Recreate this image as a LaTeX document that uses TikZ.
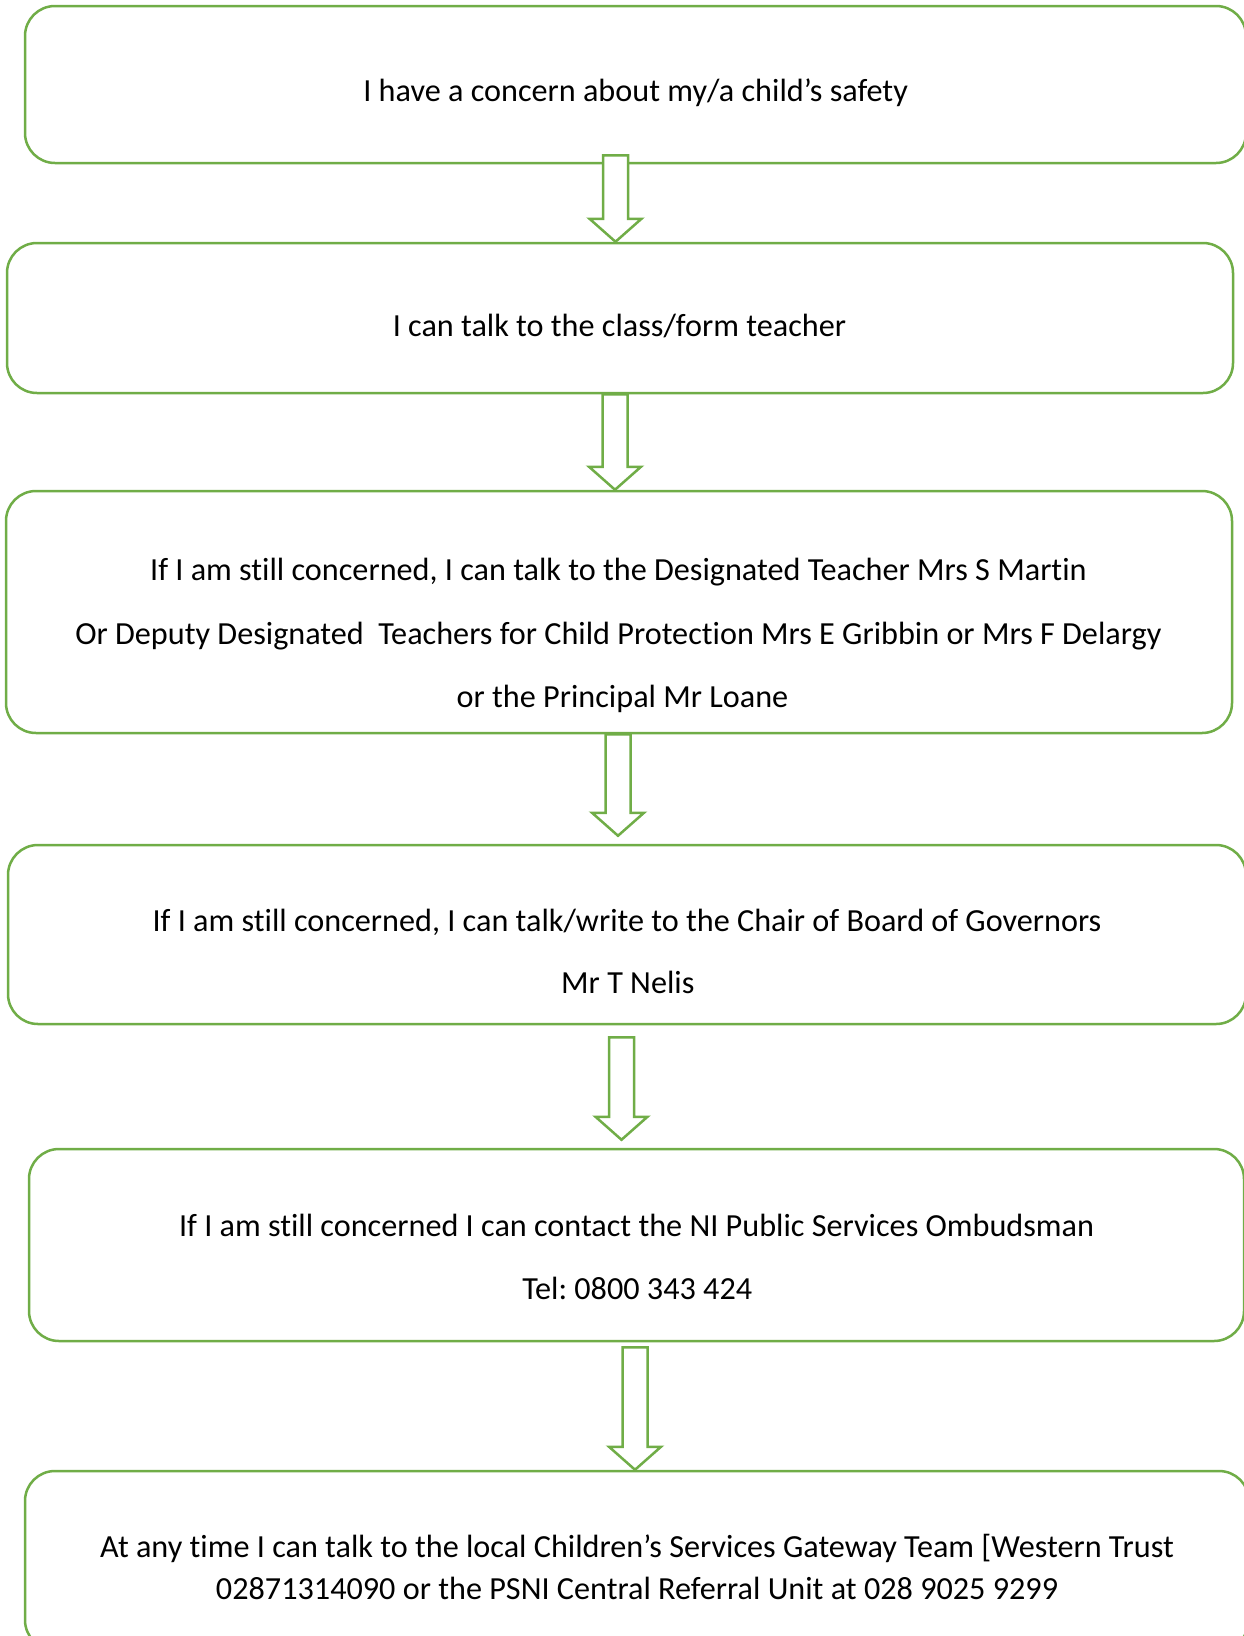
\documentclass[tikz,border=0pt]{standalone}
\usepackage{fontspec}
\setmainfont{Carlito}[Ligatures=NoCommon]
\frenchspacing
\usetikzlibrary{calc}
\definecolor{boxgreen}{HTML}{70AD47}
\tikzset{
  flowbox/.style={draw=boxgreen, line width=2.5pt, rounded corners=30pt, inner sep=0pt, fill=white},
  flowtext/.style={anchor=base, inner sep=0pt, font=\fontsize{32.2}{38}\selectfont},
  flowarrow/.style={draw=boxgreen, fill=white, line width=2.5pt, line join=miter},
}
% block arrow: x, from node, to node, shift of top, shift of tip
\newcommand\downblock[5]{%
  \draw[flowarrow] let \p1=(#2.south), \p2=(#3.north) in
    ({#1pt-12.5pt},{\y1+#4pt}) -- ({#1pt-12.5pt},{\y2+#5pt+23pt})
    -- ({#1pt-26pt},{\y2+#5pt+23pt}) -- ({#1pt},{\y2+#5pt})
    -- ({#1pt+26pt},{\y2+#5pt+23pt}) -- ({#1pt+12.5pt},{\y2+#5pt+23pt})
    -- ({#1pt+12.5pt},{\y1+#4pt}) -- cycle;}
\begin{document}
\begin{tikzpicture}[x=1pt, y=1pt]
    \useasboundingbox (0,0) rectangle (1243,-1636);

    % boxes
    \node[flowbox, minimum width=1221pt, minimum height=157pt] (b1) at (635.5,-84.5) {};
    \node[flowbox, minimum width=1226pt, minimum height=150pt] (b2) at (620,-318) {};
    \node[flowbox, minimum width=1226pt, minimum height=242pt] (b3) at (619,-612) {};
    \node[flowbox, minimum width=1238pt, minimum height=179pt] (b4) at (627,-934.5) {};
    \node[flowbox, minimum width=1215pt, minimum height=192pt] (b5) at (636.5,-1245) {};
    \node[flowbox, minimum width=1224pt, minimum height=179pt] (b6) at (637,-1560.5) {};

    % arrows
    \downblock{615.5}{b1}{b2}{9}{0}
    \downblock{615}{b2}{b3}{0}{0}
    \downblock{618}{b3}{b4}{0}{8}
    \downblock{621.5}{b4}{b5}{-12}{8}
    \downblock{635}{b5}{b6}{-5}{0}

    % texts
    \node[flowtext] (t1) at (635.6,-101.5) {I have a concern about my/a child’s safety};
    \node[flowtext] (t2) at (619.4,-336) {I can talk to the class/form teacher};
    \node[flowtext] (t3a) at (618.4,-580.5) {If I am still concerned, I can talk to the Designated Teacher Mrs S Martin};
    \node[flowtext] (t3b) at (618.4,-644) {Or Deputy Designated\ \ Teachers for Child Protection Mrs E Gribbin or Mrs F Delargy};
    \node[flowtext] (t3c) at (622.5,-707.5) {or the Principal Mr Loane};
    \node[flowtext] (t4a) at (627,-931) {If I am still concerned, I can talk/write to the Chair of Board of Governors};
    \node[flowtext] (t4b) at (627.8,-993.7) {Mr T Nelis};
    \node[flowtext] (t5a) at (636.6,-1236) {If I am still concerned I can contact the NI Public Services Ombudsman};
    \node[flowtext] (t5b) at (637.2,-1299.5) {Tel: 0800 343 424};
    \node[flowtext] (t6a) at (637,-1557) {At any time I can talk to the local Children’s Services Gateway Team [Western Trust};
    \node[flowtext] (t6b) at (637,-1599) {02871314090 or the PSNI Central Referral Unit at 028 9025 9299};
\end{tikzpicture}
\end{document}
